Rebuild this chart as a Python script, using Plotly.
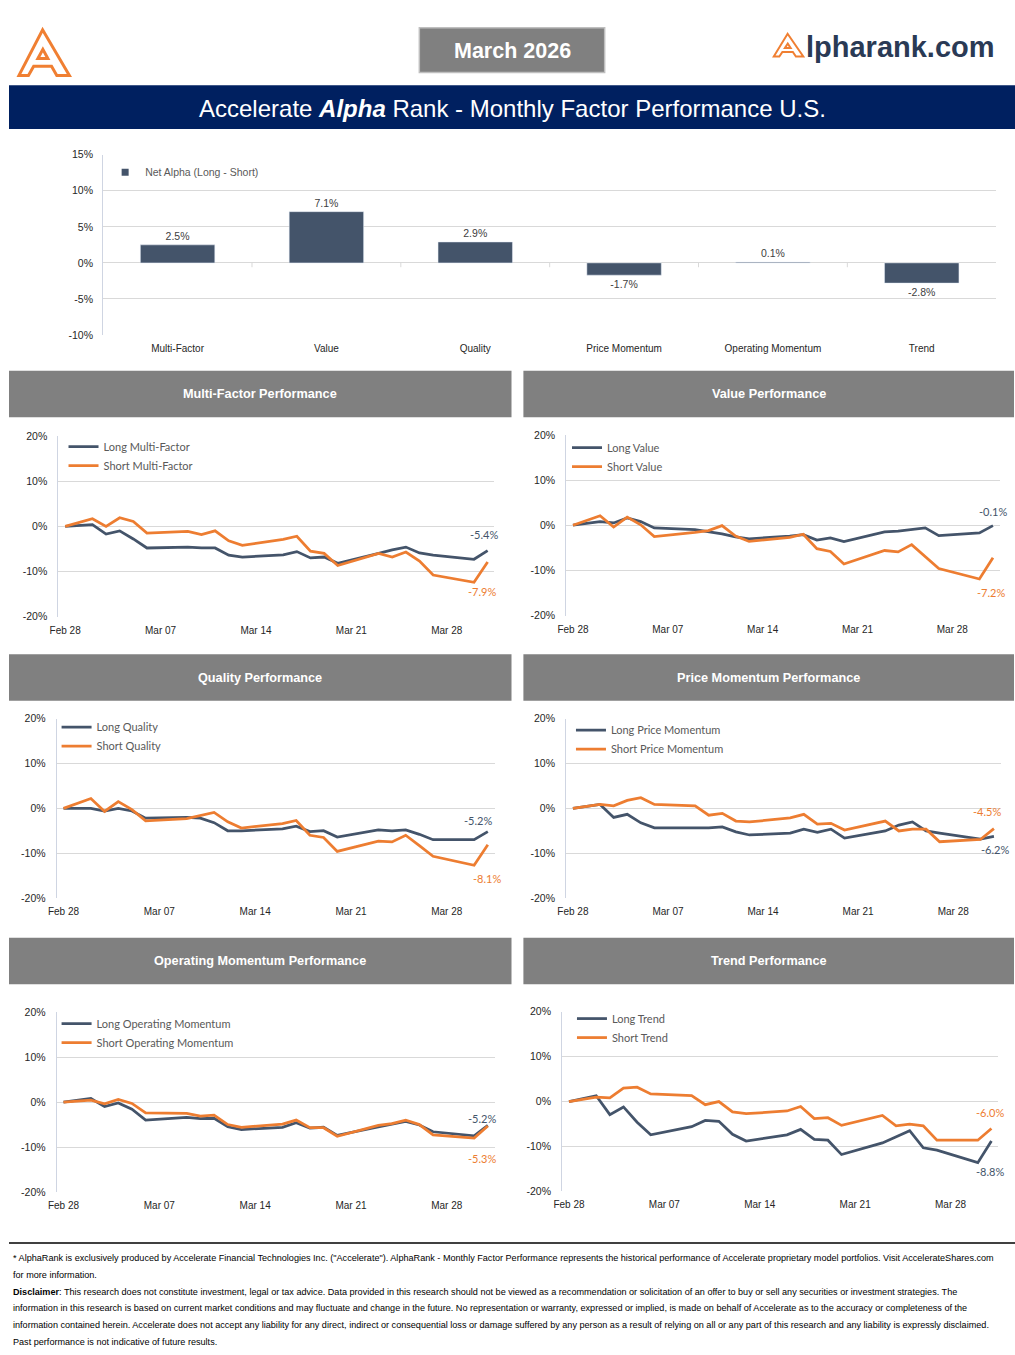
import plotly.graph_objects as go

W, H = 1015, 1355

# ---------------- data ----------------
dates = ["2026-02-28", "2026-03-02", "2026-03-03", "2026-03-04", "2026-03-05", "2026-03-06",
         "2026-03-09", "2026-03-10", "2026-03-11", "2026-03-12", "2026-03-13",
         "2026-03-16", "2026-03-17", "2026-03-18", "2026-03-19", "2026-03-20",
         "2026-03-23", "2026-03-24", "2026-03-25", "2026-03-26", "2026-03-27",
         "2026-03-30", "2026-03-31"]

factors = ["Multi-Factor", "Value", "Quality", "Price Momentum", "Operating Momentum", "Trend"]
net_alpha = [2.5, 7.1, 2.9, -1.7, 0.1, -2.8]

mf_long = [0, 0.4, -1.7, -1.0, -2.8, -4.8, -4.6, -4.8, -4.8, -6.4, -6.8, -6.3, -5.6, -7.0, -6.8, -8.2, -6.0, -5.2, -4.6, -5.9, -6.4, -7.3, -5.4]
mf_short = [0, 1.7, 0.0, 1.9, 1.1, -1.5, -1.1, -1.8, -1.0, -3.2, -4.2, -2.9, -2.2, -5.5, -6.0, -8.7, -6.0, -6.8, -5.7, -7.7, -10.8, -12.4, -7.9]
val_long = [0, 0.8, 0.5, 1.6, 0.8, -0.6, -1.0, -1.4, -1.9, -2.6, -3.0, -2.4, -2.1, -3.3, -2.8, -3.6, -1.5, -1.3, -0.9, -0.6, -2.3, -1.7, -0.1]
val_short = [0, 2.1, -0.4, 1.8, 0.1, -2.5, -1.6, -1.2, -0.1, -2.4, -3.6, -2.7, -2.0, -5.2, -5.8, -8.6, -5.6, -5.9, -4.3, -6.9, -9.6, -11.9, -7.2]
qual_long = [0, 0.0, -0.6, 0.0, -0.6, -2.2, -2.0, -2.2, -3.2, -5.0, -5.0, -4.6, -4.0, -5.2, -5.0, -6.4, -4.8, -5.0, -4.8, -5.8, -7.0, -7.0, -5.2]
qual_short = [0, 2.2, -0.7, 1.5, -0.3, -2.8, -2.3, -1.6, -0.9, -3.0, -4.4, -3.4, -2.7, -6.0, -6.5, -9.6, -7.3, -7.5, -6.0, -8.3, -10.7, -12.7, -8.1]
pm_long = [0, 0.9, -2.0, -1.3, -3.2, -4.3, -4.3, -4.3, -4.1, -5.2, -5.9, -5.5, -4.6, -5.3, -4.6, -6.6, -5.0, -3.7, -3.0, -5.0, -5.5, -6.8, -6.2]
pm_short = [0, 0.9, 0.6, 1.8, 2.4, 0.9, 0.6, -1.5, -1.1, -2.8, -3.0, -2.1, -1.3, -3.5, -3.3, -4.8, -2.8, -5.0, -4.6, -4.6, -7.4, -6.9, -4.5]
om_long = [0, 0.8, -1.0, -0.2, -1.6, -4.0, -3.4, -3.7, -3.6, -5.5, -6.1, -5.6, -4.6, -5.8, -5.6, -7.4, -5.5, -4.9, -4.3, -5.1, -6.6, -7.5, -5.2]
om_short = [0, 0.4, -0.4, 0.6, -0.3, -2.4, -2.5, -3.1, -2.9, -5.0, -5.6, -4.9, -4.0, -5.7, -5.7, -7.6, -5.2, -4.8, -4.0, -5.0, -7.3, -8.0, -5.3]
tr_long = [0, 1.3, -2.9, -1.2, -4.6, -7.4, -5.6, -4.2, -4.4, -7.3, -8.8, -7.4, -6.2, -8.4, -8.6, -11.8, -9.2, -7.8, -6.5, -10.3, -10.8, -13.6, -8.8]
tr_short = [0, 1.0, 0.8, 3.0, 3.2, 1.7, 1.3, -0.7, 0.0, -2.3, -2.7, -2.1, -1.1, -3.8, -3.6, -5.3, -3.1, -5.4, -5.0, -5.4, -8.6, -8.6, -6.0]

bar_yticks = [-10, -5, 0, 5, 10, 15]
line_yticks = [-20, -10, 0, 10, 20]

disclaimer_lines = [
    '* AlphaRank is exclusively produced by Accelerate Financial Technologies Inc. ("Accelerate"). AlphaRank - Monthly Factor Performance represents the historical performance of Accelerate proprietary model portfolios. Visit AccelerateShares.com',
    'for more information.',
    '<b>Disclaimer</b>: This research does not constitute investment, legal or tax advice. Data provided in this research should not be viewed as a recommendation or solicitation of an offer to buy or sell any securities or investment strategies. The',
    'information in this research is based on current market conditions and may fluctuate and change in the future. No representation or warranty, expressed or implied, is made on behalf of Accelerate as to the accuracy or completeness of the',
    'information contained herein. Accelerate does not accept any liability for any direct, indirect or consequential loss or damage suffered by any person as a result of relying on all or any part of this research and any liability is expressly disclaimed.',
    'Past performance is not indicative of future results.',
]

# ---------------- styles ----------------
DARK = "#44546a"
ORANGE = "#ed7d31"
GRID = "#d9d9d9"
AXLINE = "#cfd5e2"
HEADER_GRAY = "#808080"
NAVY = "#002060"
NARROW = "Liberation Sans, Arial, sans-serif"
SANS = "Lato, Carlito, Calibri, sans-serif"


def fx(px):
    return px / W


def fy(py):
    return 1 - py / H


panels = [
    dict(title="Multi-Factor Performance", names=("Long Multi-Factor", "Short Multi-Factor"),
         vals=(mf_long, mf_short), box=(49.8, 489.8, 434, 616), leg=(60, 443),
         off=((-4, 16), (-6, -30)), hdr=(0, 507, 368, 415)),
    dict(title="Value Performance", names=("Long Value", "Short Value"),
         vals=(val_long, val_short), box=(562.2, 999.6, 432.7, 615), leg=(568, 444),
         off=((0, 14), (-2, -35)), hdr=(519, 1014, 368, 415)),
    dict(title="Quality Performance", names=("Long Quality", "Short Quality"),
         vals=(qual_long, qual_short), box=(48.1, 490, 719, 900), leg=(53, 726),
         off=((-10, 11), (-1, -34)), hdr=(0, 507, 654, 701)),
    dict(title="Price Momentum Performance", names=("Long Price Momentum", "Short Price Momentum"),
         vals=(pm_long, pm_short), box=(562.1, 1000.6, 719, 900.3), leg=(572, 729),
         off=((1, -13), (-7, 17)), hdr=(519, 1014, 654, 701)),
    dict(title="Operating Momentum Performance", names=("Long Operating Momentum", "Short Operating Momentum"),
         vals=(om_long, om_short), box=(48.1, 490, 1015, 1196.7), leg=(53, 1025),
         off=((-6, 7), (-6, -33)), hdr=(0, 507, 940, 987)),
    dict(title="Trend Performance", names=("Long Trend", "Short Trend"),
         vals=(tr_long, tr_short), box=(558.1, 998.1, 1014.7, 1196), leg=(573, 1020),
         off=((-1, -30), (-1, 16)), hdr=(519, 1014, 940, 987)),
]

fig = go.Figure()
shapes = []
annotations = []
layout = {}

# ---------------- bar chart ----------------
fig.add_trace(go.Bar(
    x=factors, y=net_alpha, marker_color=DARK, width=0.5,
    text=[f"{v:.1f}%" for v in net_alpha], textposition="outside",
    textfont=dict(family=NARROW, size=10.5, color="#404040"),
    cliponaxis=False, showlegend=False, xaxis="x", yaxis="y", hoverinfo="skip"))
fig.add_trace(go.Scatter(
    x=[None], y=[None], mode="markers", name="Net Alpha (Long - Short)",
    marker=dict(symbol="square", size=7, color=DARK), legend="legend",
    xaxis="x", yaxis="y"))

layout["xaxis"] = dict(domain=[fx(95), fx(996)], anchor="y", type="category",
                       showgrid=False, zeroline=False, showline=False, ticks="",
                       tickfont=dict(family=NARROW, size=10, color="#262626"),
                       ticklabelstandoff=6, fixedrange=True)
layout["yaxis"] = dict(domain=[fy(332), fy(150)], anchor="x", range=[-10, 15],
                       tickvals=bar_yticks, ticktext=[f"{v}%" for v in bar_yticks],
                       showgrid=True, gridcolor=GRID, gridwidth=1, zeroline=False,
                       showline=True, linecolor=AXLINE, linewidth=1, ticks="",
                       tickfont=dict(family=NARROW, size=10.5, color="#262626"),
                       ticklabelstandoff=7, fixedrange=True)
layout["legend"] = dict(x=fx(97), y=fy(153), xanchor="left", yanchor="top",
                        bgcolor="rgba(0,0,0,0)", itemwidth=30,
                        font=dict(family=NARROW, size=10.5, color="#595959"))

# small tick marks on the zero line between categories
for i in range(1, len(factors)):
    shapes.append(dict(type="line", xref="x", yref="y", x0=i - 0.5, x1=i - 0.5,
                       y0=0, y1=-0.6, line=dict(color=GRID, width=1)))

# ---------------- line panels ----------------
for k, p in enumerate(panels):
    n = k + 2
    xa, ya, lg = f"x{n}", f"y{n}", f"legend{n}"
    x0, x1, y0, y1 = p["box"]
    colors = (DARK, ORANGE)
    for name, vals, col in zip(p["names"], p["vals"], colors):
        fig.add_trace(go.Scatter(x=dates, y=vals, mode="lines", name=name,
                                 line=dict(color=col, width=2.75), xaxis=xa, yaxis=ya,
                                 legend=lg, hoverinfo="skip"))
    layout[f"xaxis{n}"] = dict(domain=[fx(x0), fx(x1)], anchor=ya, type="date",
                               range=["2026-02-27 12:00", "2026-03-31 12:00"],
                               tick0="2026-02-28", dtick=7 * 86400000, tickformat="%b %d",
                               showgrid=False, zeroline=False, showline=False, ticks="",
                               tickfont=dict(family=NARROW, size=10, color="#262626"),
                               ticklabelstandoff=6, fixedrange=True)
    layout[f"yaxis{n}"] = dict(domain=[fy(y1), fy(y0)], anchor=xa, range=[-20, 20],
                               tickvals=line_yticks, ticktext=[f"{v}%" for v in line_yticks],
                               showgrid=True, gridcolor=GRID, gridwidth=1, zeroline=False,
                               showline=True, linecolor=AXLINE, linewidth=1, ticks="",
                               tickfont=dict(family=NARROW, size=10.5, color="#262626"),
                               ticklabelstandoff=8, fixedrange=True)
    lx, ly = p["leg"]
    layout[lg] = dict(x=fx(lx - 5), y=fy(ly - 13), xanchor="left", yanchor="top",
                      bgcolor="rgba(0,0,0,0)", itemwidth=30, tracegroupgap=0,
                      font=dict(family=SANS, size=11, color="#595959"))
    # end-of-series labels
    for vals, col, (dx, dy) in zip(p["vals"], colors, p["off"]):
        annotations.append(dict(xref=xa, yref=ya, x=dates[-1], y=vals[-1],
                                text=f"{vals[-1]:.1f}%", showarrow=False,
                                xanchor="center", yanchor="middle", xshift=dx, yshift=dy,
                                font=dict(family=SANS, size=11, color=col)))
    # section header
    hx0, hx1, hy0, hy1 = p["hdr"]
    shapes.append(dict(type="rect", xref="paper", yref="paper", x0=fx(hx0), x1=fx(hx1),
                       y0=fy(hy1), y1=fy(hy0), fillcolor=HEADER_GRAY, line=dict(width=0),
                       layer="below"))
    annotations.append(dict(xref="paper", yref="paper", x=fx((hx0 + hx1) / 2),
                            y=fy((hy0 + hy1) / 2), text=f"<b>{p['title']}</b>",
                            showarrow=False, xanchor="center", yanchor="middle",
                            font=dict(family=NARROW, size=12.7, color="white")))

# ---------------- header ----------------
shapes.append(dict(type="rect", xref="paper", yref="paper", x0=fx(414), x1=fx(601),
                   y0=fy(67), y1=fy(22), fillcolor=HEADER_GRAY,
                   line=dict(color="#bfbfbf", width=1.5)))
annotations.append(dict(xref="paper", yref="paper", x=fx(508), y=fy(45),
                        text="<b>March 2026</b>", showarrow=False,
                        xanchor="center", yanchor="middle",
                        font=dict(family=NARROW, size=21.5, color="white")))
shapes.append(dict(type="rect", xref="paper", yref="paper", x0=0, x1=1,
                   y0=fy(124), y1=fy(80), fillcolor=NAVY, line=dict(width=0)))
annotations.append(dict(xref="paper", yref="paper", x=fx(507.5), y=fy(103),
                        text="Accelerate <b><i>Alpha</i></b> Rank - Monthly Factor Performance U.S.",
                        showarrow=False, xanchor="center", yanchor="middle",
                        font=dict(family=NARROW, size=24, color="white")))


def logo_paths(bx0, by0, bw, bh):
    def P(u, v):
        return f"{fx(bx0 + u * bw):.5f},{fy(by0 + v * bh):.5f}"
    outer = ("M " + P(0.02, 1.0) + " L " + P(0.47, 0.0) + " L " + P(0.98, 1.0) +
             " L " + P(0.74, 1.0) + " L " + P(0.64, 0.80) + " L " + P(0.30, 0.80) +
             " L " + P(0.20, 1.0) + " Z")
    inner = "M " + P(0.38, 0.63) + " L " + P(0.57, 0.63) + " L " + P(0.475, 0.43) + " Z"
    return [outer, inner]


for path in logo_paths(9, 24, 53, 46):
    shapes.append(dict(type="path", xref="paper", yref="paper", path=path,
                       line=dict(color="#f07f32", width=3)))
for path in logo_paths(771, 28, 31, 23):
    shapes.append(dict(type="path", xref="paper", yref="paper", path=path,
                       line=dict(color="#f07f32", width=2)))
annotations.append(dict(xref="paper", yref="paper", x=fx(802), y=fy(41),
                        text="<b>lpharank.com</b>", showarrow=False,
                        xanchor="left", yanchor="middle",
                        font=dict(family="Liberation Sans, Arial, sans-serif", size=29,
                                  color="#2a3a55")))

# ---------------- disclaimer ----------------
shapes.append(dict(type="line", xref="paper", yref="paper", x0=0, x1=1,
                   y0=fy(1248), y1=fy(1248), line=dict(color="black", width=1.5)))
for i, line in enumerate(disclaimer_lines):
    annotations.append(dict(xref="paper", yref="paper", x=fx(2), y=fy(1263 + 17 * i),
                            text=line, showarrow=False, xanchor="left", yanchor="middle",
                            font=dict(family=NARROW, size=9.1, color="black")))

fig.update_layout(
    autosize=True, margin=dict(l=0, r=0, t=0, b=0, pad=0),
    paper_bgcolor="white", plot_bgcolor="white",
    shapes=shapes, annotations=annotations, bargap=0.5,
    **layout)

# the figure div is pinned to the page origin so the body margin does not shift it
fig.write_html("out.html", config={"displayModeBar": False, "responsive": False},
               default_width=f"{W}px; position:absolute; left:0px; top:0px",
               default_height=f"{H}px",
               post_script="document.body.style.margin='0px';")
